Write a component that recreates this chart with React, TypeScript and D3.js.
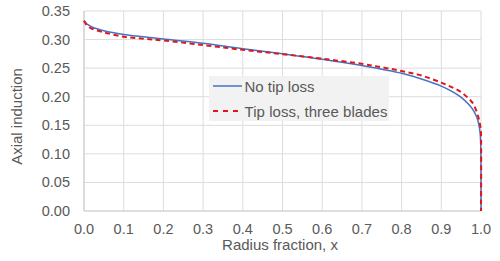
import React, { useEffect } from "react";
import * as d3 from "d3";

const xTicks = [0, 0.1, 0.2, 0.3, 0.4, 0.5, 0.6, 0.7, 0.8, 0.9, 1.0];
const yTicks = [0, 0.05, 0.1, 0.15, 0.2, 0.25, 0.3, 0.35];

const noTipX = [0, 0.005, 0.01, 0.02, 0.05, 0.1, 0.15, 0.2, 0.3, 0.4, 0.5, 0.6, 0.7, 0.75, 0.8, 0.85, 0.9, 0.93, 0.95, 0.97, 0.98, 0.99, 0.995, 0.998, 0.9995, 1.0];
const noTipA = [0.333, 0.329, 0.326, 0.322, 0.3155, 0.309, 0.305, 0.301, 0.2935, 0.284, 0.275, 0.2655, 0.2545, 0.248, 0.241, 0.231, 0.2185, 0.208, 0.199, 0.186, 0.177, 0.163, 0.15, 0.135, 0.11, 0];

const tipX = [0, 0.005, 0.01, 0.02, 0.05, 0.1, 0.15, 0.2, 0.3, 0.4, 0.5, 0.6, 0.7, 0.75, 0.8, 0.85, 0.9, 0.93, 0.95, 0.97, 0.98, 0.99, 0.995, 0.999, 1.0, 1.0];
const tipA = [0.333, 0.327, 0.323, 0.319, 0.3127, 0.305, 0.3015, 0.2985, 0.2905, 0.282, 0.2745, 0.2665, 0.2575, 0.2515, 0.245, 0.237, 0.2246, 0.2155, 0.208, 0.196, 0.188, 0.172, 0.16, 0.145, 0.135, 0];

const seriesNames = ["No tip loss", "Tip loss, three blades"];

const W = 500, H = 261;
const M = { left: 84, right: 19, top: 11, bottom: 50 };
const FONT = "'Liberation Sans', Arial, sans-serif";
const TXT = "#595959";

export default function App() {
  useEffect(() => {
    document.body.style.margin = "0";
  }, []);
  const x = d3.scaleLinear().domain([0, 1]).range([M.left, W - M.right]);
  const y = d3.scaleLinear().domain([0, 0.35]).range([H - M.bottom, M.top]);
  const line = d3
    .line<[number, number]>()
    .x((d) => x(d[0]))
    .y((d) => y(d[1]))
    .curve(d3.curveCatmullRom.alpha(0.5));
  const blue = noTipX.map((v, i) => [v, noTipA[i]] as [number, number]);
  const red = tipX.map((v, i) => [v, tipA[i]] as [number, number]);

  return (
    <svg width={W} height={H} style={{ position: "absolute", left: 0, top: 0, background: "#fff" }} fontFamily={FONT}>
      {xTicks.map((t) => (
        <line key={"gx" + t} x1={x(t)} x2={x(t)} y1={y(0.35)} y2={y(0)} stroke="#dcdcdc" strokeWidth={1} />
      ))}
      {yTicks.map((t) => (
        <line key={"gy" + t} x1={x(0)} x2={x(1)} y1={y(t)} y2={y(t)} stroke="#dcdcdc" strokeWidth={1} />
      ))}
      <line x1={x(0)} x2={x(1)} y1={y(0)} y2={y(0)} stroke="#d0d0d0" strokeWidth={1.2} />
      <line x1={x(0)} x2={x(0)} y1={y(0)} y2={y(0.35)} stroke="#d0d0d0" strokeWidth={1.2} />
      {yTicks.map((t) => (
        <text key={"ty" + t} x={70} y={y(t) + 5} textAnchor="end" fontSize={14.5} fill={TXT}>
          {t.toFixed(2)}
        </text>
      ))}
      {xTicks.map((t) => (
        <text key={"tx" + t} x={x(t)} y={234} textAnchor="middle" fontSize={14.5} fill={TXT}>
          {t.toFixed(1)}
        </text>
      ))}
      <text x={280} y={250} textAnchor="middle" fontSize={15} fill={TXT}>
        Radius fraction, x
      </text>
      <text transform={`translate(22, ${116.5}) rotate(-90)`} textAnchor="middle" fontSize={15} fill={TXT}>
        Axial induction
      </text>
      <path d={line(blue) || ""} fill="none" stroke="#4472C4" strokeWidth={1.5} />
      <path d={line(red) || ""} fill="none" stroke="#E0161E" strokeWidth={2} strokeDasharray="5,3.5" />
      <rect x={209} y={76} width={180} height={45} fill="#f2f2f2" />
      <line x1={213} x2={242} y1={86} y2={86} stroke="#4472C4" strokeWidth={1.5} />
      <line x1={213} x2={238} y1={111} y2={111} stroke="#E0161E" strokeWidth={2} strokeDasharray="5,5" />
      <text x={244.5} y={91.5} fontSize={15} fill={TXT}>{seriesNames[0]}</text>
      <text x={244.5} y={116.5} fontSize={15} fill={TXT} textLength={143}>{seriesNames[1]}</text>
    </svg>
  );
}
